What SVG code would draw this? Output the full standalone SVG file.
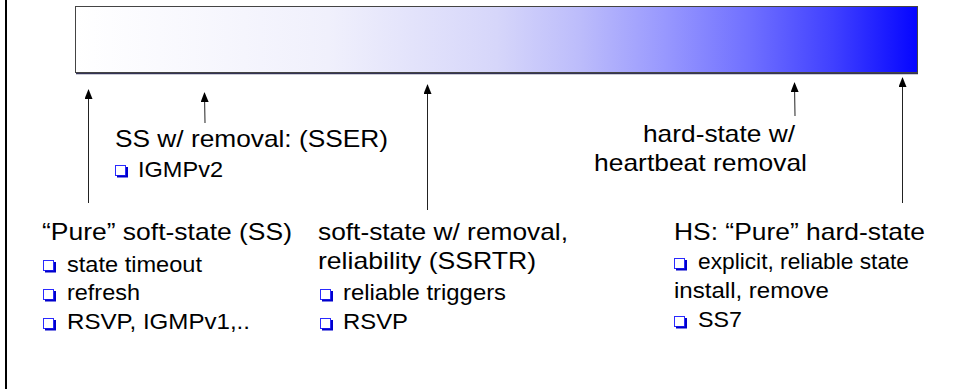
<svg xmlns="http://www.w3.org/2000/svg" width="953" height="389" viewBox="0 0 953 389">
  <defs>
    <linearGradient id="spectrum" x1="0" y1="0" x2="1" y2="0">
      <stop offset="0" stop-color="#ffffff"/>
      <stop offset="0.3" stop-color="#f0f0fc"/>
      <stop offset="0.5" stop-color="#d6d6fa"/>
      <stop offset="0.6" stop-color="#bcbcfb"/>
      <stop offset="0.7" stop-color="#9898fe"/>
      <stop offset="0.8" stop-color="#7070ff"/>
      <stop offset="0.9" stop-color="#4040ff"/>
      <stop offset="1" stop-color="#0505ff"/>
    </linearGradient>
    <marker id="head" viewBox="0 0 10 8" refX="9" refY="4" markerWidth="10" markerHeight="8" markerUnits="userSpaceOnUse" orient="auto">
      <path d="M0,0 L10,4 L0,8 Z" fill="#000"/>
    </marker>
    <g id="bullet">
      <rect x="0.5" y="0.5" width="10" height="10" fill="#fff" stroke="#2a2aff" stroke-width="1"/>
      <path d="M2,11.5 H12 V2" fill="none" stroke="#0000cc" stroke-width="2"/>
    </g>
  </defs>
  <style>
    .head { font-family: "Liberation Sans", Arial, sans-serif; font-size: 24px; fill: #000; }
    .item { font-family: "Liberation Sans", Arial, sans-serif; font-size: 21.5px; fill: #000; }
    .conn { stroke: #222; stroke-width: 1; fill: none; marker-end: url(#head); }
  </style>

  <rect x="0" y="0" width="953" height="389" fill="#ffffff"/>
  <line x1="6" y1="0" x2="6" y2="389" stroke="#000" stroke-width="2"/>

  <g id="spectrum-bar">
    <line x1="76" y1="73.5" x2="918" y2="73.5" stroke="#333355" stroke-width="1.5"/>
    <rect x="75.5" y="6.5" width="842" height="66" fill="url(#spectrum)" stroke="#444" stroke-width="1"/>
  </g>

  <g id="connectors">
    <line class="conn" x1="88.5" y1="203" x2="88.5" y2="90"/>
    <line class="conn" x1="205" y1="123" x2="204.5" y2="93"/>
    <line class="conn" x1="427.5" y1="210" x2="427.5" y2="85"/>
    <line class="conn" x1="795" y1="116" x2="794.5" y2="83"/>
    <line class="conn" x1="902.5" y1="203" x2="902.5" y2="78"/>
  </g>

  <g id="sser">
    <text class="head" x="115" y="147" textLength="273" lengthAdjust="spacingAndGlyphs">SS w/ removal: (SSER)</text>
    <use href="#bullet" x="115" y="165"/>
    <text class="item" x="138" y="177" textLength="85" lengthAdjust="spacingAndGlyphs">IGMPv2</text>
  </g>

  <g id="hs-heartbeat">
    <text class="head" x="643" y="142" textLength="152" lengthAdjust="spacingAndGlyphs">hard-state w/</text>
    <text class="head" x="594" y="171" textLength="213" lengthAdjust="spacingAndGlyphs">heartbeat removal</text>
  </g>

  <g id="ss">
    <text class="head" x="42" y="240" textLength="250" lengthAdjust="spacingAndGlyphs">“Pure” soft-state (SS)</text>
    <use href="#bullet" x="43" y="260"/>
    <text class="item" x="67" y="272" textLength="135" lengthAdjust="spacingAndGlyphs">state timeout</text>
    <use href="#bullet" x="43" y="289"/>
    <text class="item" x="67" y="300" textLength="73" lengthAdjust="spacingAndGlyphs">refresh</text>
    <use href="#bullet" x="43" y="318"/>
    <text class="item" x="67" y="329" textLength="183" lengthAdjust="spacingAndGlyphs">RSVP, IGMPv1,..</text>
  </g>

  <g id="ssrtr">
    <text class="head" x="318" y="240" textLength="250" lengthAdjust="spacingAndGlyphs">soft-state w/ removal,</text>
    <text class="head" x="318" y="269" textLength="218" lengthAdjust="spacingAndGlyphs">reliability (SSRTR)</text>
    <use href="#bullet" x="320" y="289"/>
    <text class="item" x="343" y="300" textLength="163" lengthAdjust="spacingAndGlyphs">reliable triggers</text>
    <use href="#bullet" x="320" y="318"/>
    <text class="item" x="343" y="329" textLength="65" lengthAdjust="spacingAndGlyphs">RSVP</text>
  </g>

  <g id="hs">
    <text class="head" x="674" y="240" textLength="251" lengthAdjust="spacingAndGlyphs">HS: “Pure” hard-state</text>
    <use href="#bullet" x="674" y="258"/>
    <text class="item" x="698" y="269" textLength="211" lengthAdjust="spacingAndGlyphs">explicit, reliable state</text>
    <text class="item" x="674" y="298" textLength="155" lengthAdjust="spacingAndGlyphs">install, remove</text>
    <use href="#bullet" x="674" y="316"/>
    <text class="item" x="698" y="327" textLength="44" lengthAdjust="spacingAndGlyphs">SS7</text>
  </g>
</svg>
